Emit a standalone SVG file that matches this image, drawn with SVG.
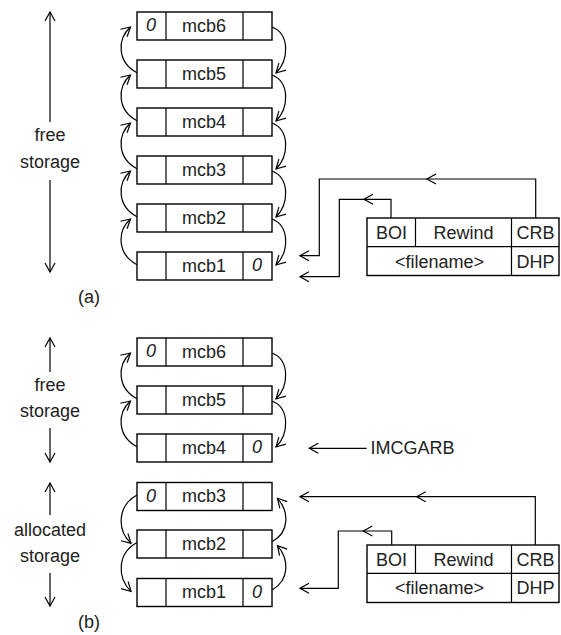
<svg xmlns="http://www.w3.org/2000/svg" width="561" height="635" viewBox="0 0 561 635">
  <style>
    .box { fill: none; stroke: #000; stroke-width: 1.4; }
    .ln { fill: none; stroke: #000; stroke-width: 1.2; }
    .arr { fill: none; stroke: #000; stroke-width: 1.2; marker-end: url(#ah); }
    text { font-family: "Liberation Sans", Arial, sans-serif; font-size: 18px; fill: #222; }
    .c { text-anchor: middle; }
    .z { font-style: italic; }
  </style>
  <defs>
    <marker id="ah" markerUnits="userSpaceOnUse" markerWidth="20" markerHeight="20" refX="0" refY="0" orient="auto" overflow="visible">
      <path d="M-9,-5 L0,0 L-9,5" fill="none" stroke="#000" stroke-width="1.2"/>
    </marker>
  </defs>

  <rect width="561" height="635" fill="#fff"/>

  <!-- part (a) -->
  <g id="a-label-free">
    <path class="arr" d="M50,122 V12"/>
    <text class="c" x="50" y="141">free</text>
    <text class="c" x="50" y="168">storage</text>
    <path class="arr" d="M50,180 V272"/>
  </g>
  <text class="c" x="89" y="303">(a)</text>

  <g id="a-mcb6">
    <rect class="box" x="137" y="12" width="135" height="28"/>
    <path class="ln" d="M166,12 V40 M243,12 V40"/>
    <text class="c z" x="151" y="31">0</text>
    <text class="c" x="204" y="31.5">mcb6</text>
  </g>
  <g id="a-mcb5">
    <rect class="box" x="137" y="60" width="135" height="28"/>
    <path class="ln" d="M166,60 V88 M243,60 V88"/>
    <text class="c" x="204" y="79.5">mcb5</text>
  </g>
  <g id="a-mcb4">
    <rect class="box" x="137" y="108" width="135" height="28"/>
    <path class="ln" d="M166,108 V136 M243,108 V136"/>
    <text class="c" x="204" y="127.5">mcb4</text>
  </g>
  <g id="a-mcb3">
    <rect class="box" x="137" y="156" width="135" height="28"/>
    <path class="ln" d="M166,156 V184 M243,156 V184"/>
    <text class="c" x="204" y="175.5">mcb3</text>
  </g>
  <g id="a-mcb2">
    <rect class="box" x="137" y="204" width="135" height="28"/>
    <path class="ln" d="M166,204 V232 M243,204 V232"/>
    <text class="c" x="204" y="223.5">mcb2</text>
  </g>
  <g id="a-mcb1">
    <rect class="box" x="137" y="252" width="135" height="28"/>
    <path class="ln" d="M166,252 V280 M243,252 V280"/>
    <text class="c" x="204" y="271.5">mcb1</text>
    <text class="c z" x="257" y="271">0</text>
  </g>

  <g id="a-file">
    <rect class="box" x="367" y="218" width="192" height="57.5"/>
    <path class="ln" d="M367,246.7 H559 M415.5,218 V246.7 M511.5,218 V275.5"/>
    <text class="c" x="391.5" y="239">BOI</text>
    <text class="c" x="463.5" y="239">Rewind</text>
    <text class="c" x="535.5" y="239">CRB</text>
    <text class="c" x="439.5" y="267.5">&lt;filename&gt;</text>
    <text class="c" x="535.5" y="267.5">DHP</text>
  </g>

  <!-- part (b) -->
  <g id="b-label-free">
    <path class="arr" d="M50,372 V338"/>
    <text class="c" x="50" y="391">free</text>
    <text class="c" x="50" y="417">storage</text>
    <path class="arr" d="M50,428 V462"/>
  </g>
  <g id="b-label-allocated">
    <path class="arr" d="M50,515 V483"/>
    <text class="c" x="50" y="536">allocated</text>
    <text class="c" x="50" y="562">storage</text>
    <path class="arr" d="M50,573 V606"/>
  </g>
  <text class="c" x="89" y="628">(b)</text>

  <g id="b-mcb6">
    <rect class="box" x="137" y="338" width="135" height="28"/>
    <path class="ln" d="M166,338 V366 M243,338 V366"/>
    <text class="c z" x="151" y="357">0</text>
    <text class="c" x="204" y="357.5">mcb6</text>
  </g>
  <g id="b-mcb5">
    <rect class="box" x="137" y="386" width="135" height="28"/>
    <path class="ln" d="M166,386 V414 M243,386 V414"/>
    <text class="c" x="204" y="405.5">mcb5</text>
  </g>
  <g id="b-mcb4">
    <rect class="box" x="137" y="434" width="135" height="28"/>
    <path class="ln" d="M166,434 V462 M243,434 V462"/>
    <text class="c" x="204" y="453.5">mcb4</text>
    <text class="c z" x="257" y="453">0</text>
  </g>
  <g id="b-mcb3">
    <rect class="box" x="137" y="482.5" width="135" height="28"/>
    <path class="ln" d="M166,482.5 V510.5 M243,482.5 V510.5"/>
    <text class="c z" x="151" y="501.5">0</text>
    <text class="c" x="204" y="502">mcb3</text>
  </g>
  <g id="b-mcb2">
    <rect class="box" x="137" y="530" width="135" height="28"/>
    <path class="ln" d="M166,530 V558 M243,530 V558"/>
    <text class="c" x="204" y="549.5">mcb2</text>
  </g>
  <g id="b-mcb1">
    <rect class="box" x="137" y="578.5" width="135" height="28"/>
    <path class="ln" d="M166,578.5 V606.5 M243,578.5 V606.5"/>
    <text class="c" x="204" y="598">mcb1</text>
    <text class="c z" x="257" y="597.5">0</text>
  </g>

  <g id="b-imcgarb">
    <text x="370.5" y="453.5">IMCGARB</text>
  </g>

  <g id="b-file">
    <rect class="box" x="367" y="545" width="192" height="57.5"/>
    <path class="ln" d="M367,573.3 H559 M415.5,545 V573.3 M511.5,545 V602.5"/>
    <text class="c" x="391.5" y="566">BOI</text>
    <text class="c" x="463.5" y="566">Rewind</text>
    <text class="c" x="535.5" y="566">CRB</text>
    <text class="c" x="439.5" y="594">&lt;filename&gt;</text>
    <text class="c" x="535.5" y="594">DHP</text>
  </g>

  <g id="connectors">
    <!-- (a) back links, left side, upward -->
    <path class="arr" d="M137,72.7 C117,62 117,39 130.5,27"/>
    <path class="arr" d="M137,120.7 C117,110 117,87 130.5,75"/>
    <path class="arr" d="M137,168.7 C117,158 117,135 130.5,123"/>
    <path class="arr" d="M137,216.7 C117,206 117,183 130.5,171"/>
    <path class="arr" d="M137,264.7 C117,254 117,231 130.5,219"/>
    <!-- (a) forward links, right side, downward -->
    <path class="arr" d="M272,27 C290,34 289,60 276,73"/>
    <path class="arr" d="M272,75 C290,82 289,108 276,121"/>
    <path class="arr" d="M272,123 C290,130 289,156 276,169"/>
    <path class="arr" d="M272,171 C290,178 289,204 276,217"/>
    <path class="arr" d="M272,219 C290,226 289,252 276,265"/>
    <!-- (a) file block pointers -->
    <path class="arr" d="M535.7,218 V179 H427"/>
    <path class="arr" d="M427,179 H319.3 V255.7 H300"/>
    <path class="arr" d="M391,218 V199.3 H364"/>
    <path class="arr" d="M364,199.3 H339.3 V276.7 H300"/>

    <!-- (b) free chain -->
    <path class="arr" d="M137,398.7 C117,388 117,365 130.5,353"/>
    <path class="arr" d="M137,446.7 C117,436 117,413 130.5,401"/>
    <path class="arr" d="M272,353 C290,360 289,386 276,399"/>
    <path class="arr" d="M272,401 C290,408 289,434 276,447"/>
    <!-- (b) allocated chain -->
    <path class="arr" d="M137,495 C117,506 117,530 131,543.3"/>
    <path class="arr" d="M137,542.5 C117,553.5 117,577.5 131,591.5"/>
    <path class="arr" d="M272,541.7 C290,532 289,511 277.5,498.3"/>
    <path class="arr" d="M272,590 C290,580 289,559 277.5,545.6"/>
    <!-- (b) IMCGARB pointer -->
    <path class="arr" d="M366.7,448.3 H309.3"/>
    <!-- (b) file block pointers -->
    <path class="arr" d="M535.3,545 V496.7 H416.7"/>
    <path class="arr" d="M416.7,496.7 H300"/>
    <path class="arr" d="M391.7,545 V531 H363.3"/>
    <path class="arr" d="M363.3,531 H338.3 V588.3 H300"/>
  </g>
</svg>
